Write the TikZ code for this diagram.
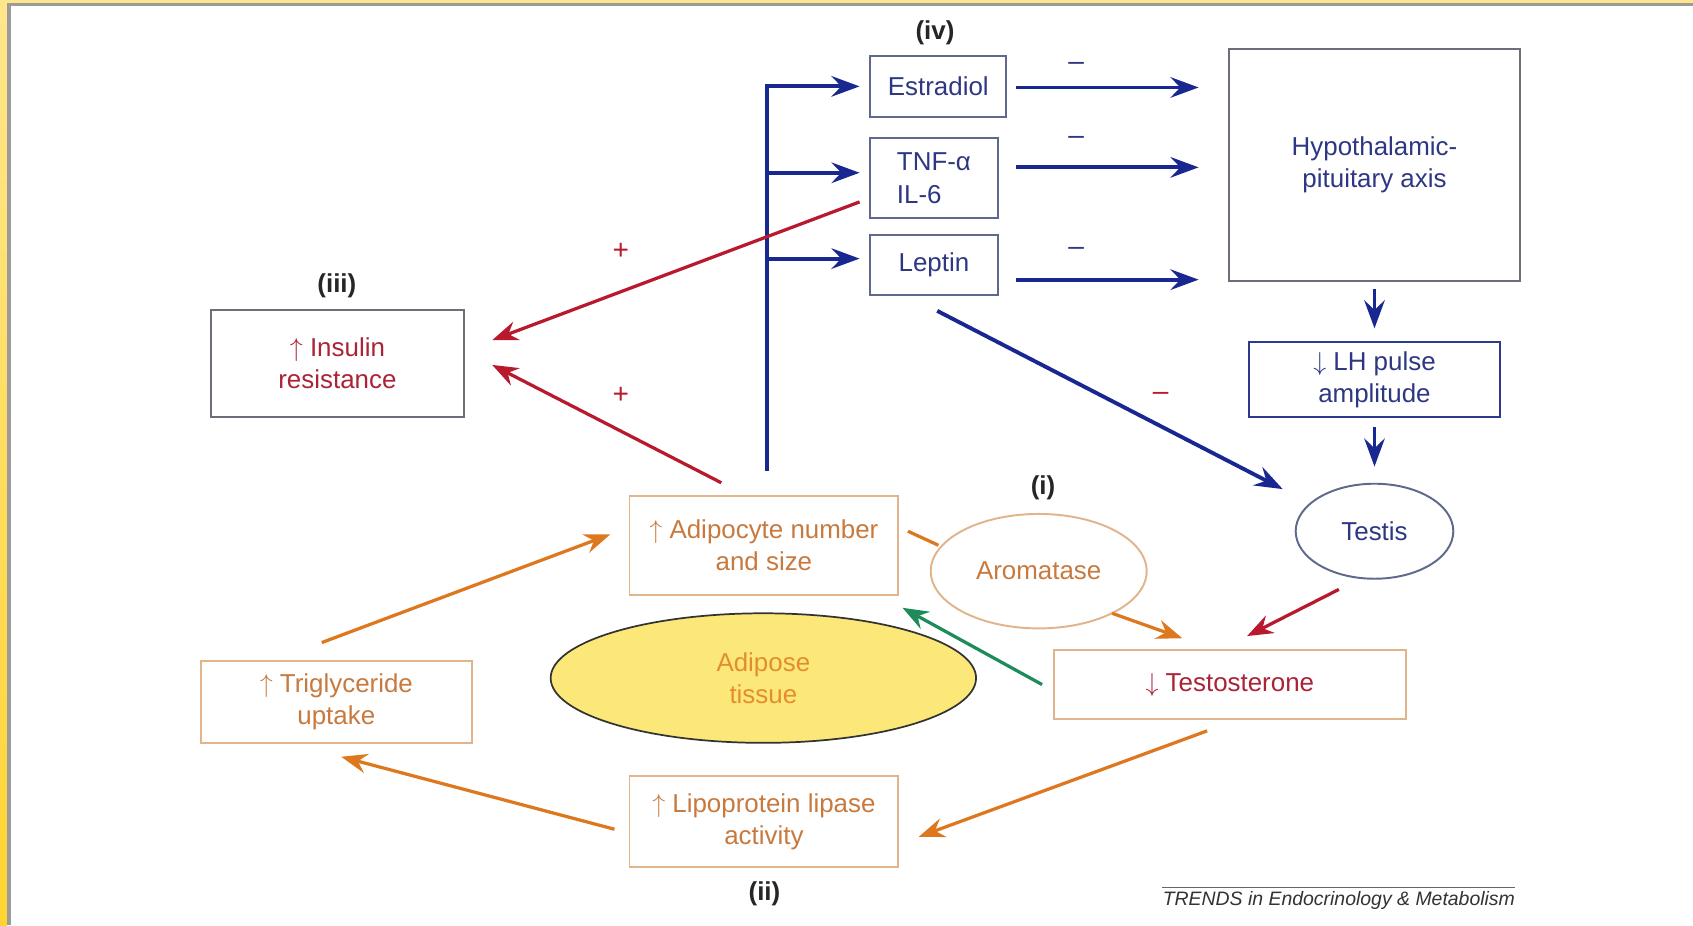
\documentclass[tikz,border=0pt]{standalone}
\usepackage{fontspec}
\setmainfont{Liberation Sans}
\usetikzlibrary{arrows.meta,calc,shapes.geometric}
\newcommand{\myup}{\ensuremath{\uparrow}}
\newcommand{\mydn}{\ensuremath{\downarrow}}
\definecolor{cblue}{RGB}{25,40,145}
\definecolor{tblue}{RGB}{45,55,130}
\definecolor{bgray}{RGB}{95,105,140}
\definecolor{ggray}{RGB}{110,110,120}
\definecolor{cred}{RGB}{185,25,45}
\definecolor{tred}{RGB}{170,35,55}
\definecolor{corange}{RGB}{222,120,30}
\definecolor{torange}{RGB}{200,122,62}
\definecolor{obord}{RGB}{225,180,140}
\definecolor{cgreen}{RGB}{30,140,90}
\definecolor{ayellow}{RGB}{251,232,120}
\definecolor{aorange}{RGB}{228,140,50}
\definecolor{fyellow}{RGB}{255,230,140}
\definecolor{fyellow2}{RGB}{255,212,50}
\definecolor{fgray}{RGB}{155,155,155}
\begin{document}
\begin{tikzpicture}[x=0.5pt,y=-0.5pt,
 txt/.style={font=\fontsize{12}{15}\selectfont,align=center,inner sep=0pt},
 bluebox/.style={txt,draw=bgray,line width=0.9pt,text=tblue,rectangle},
 graybox/.style={txt,draw=ggray,line width=0.9pt,rectangle},
 orbox/.style={txt,draw=obord,line width=0.9pt,rectangle,text=torange},
 lbl/.style={font=\bfseries\fontsize{12}{14}\selectfont,text=black!85},
 sign/.style={font=\fontsize{13}{14}\selectfont,inner sep=0pt},
 barrow/.style={draw=cblue,line width=1.8pt,-{Stealth[length=13pt,width=9.5pt,inset=4.5pt]}},
 rarrow/.style={draw=cred,line width=1.5pt,-{Stealth[length=12pt,width=9pt,inset=4pt]}},
 oarrow/.style={draw=corange,line width=1.5pt,-{Stealth[length=12pt,width=9pt,inset=4pt]}},
 garrow/.style={draw=cgreen,line width=1.5pt,-{Stealth[length=12pt,width=9pt,inset=4pt]}},
]
\useasboundingbox (0,0) rectangle (1568,857);
% frame
\fill[white] (0,0) rectangle (1568,857);
\fill[fyellow] (0,0) rectangle (1568,3);
\shade[top color=fyellow,bottom color=fyellow2] (0,0) rectangle (6.5,857);
\fill[fgray] (6.5,3) rectangle (1568,6);
\fill[fgray] (6.5,3) rectangle (10,857);

% nodes
\node[bluebox,minimum width=63pt,minimum height=28pt] (estr) at (869,80) {Estradiol};
\node[bluebox,minimum width=59pt,minimum height=37pt,align=left] (tnf) at (865,165) {TNF-α\\IL-6};
\node[bluebox,minimum width=59pt,minimum height=27.5pt] (lep) at (865,245.5) {Leptin};
\node[graybox,text=tblue,minimum width=135pt,minimum height=107.5pt] (hpa) at (1273,152.5) {Hypothalamic-\\pituitary axis};
\node[bluebox,draw=cblue!80!gray,minimum width=116pt,minimum height=34.5pt] (lh) at (1273,351.5) {\mydn\ LH pulse\\amplitude};
\node[txt,ellipse,draw=bgray,line width=0.9pt,text=tblue,minimum width=73pt,minimum height=44pt] (testis) at (1273,492) {Testis};
\node[orbox,text=tred,minimum width=163pt,minimum height=32pt] (testo) at (1139,634) {\mydn\ Testosterone};
\node[graybox,text=tred,minimum width=117.5pt,minimum height=49.5pt] (ins) at (312.5,336.5) {\myup\ Insulin\\resistance};
\node[orbox,minimum width=124.5pt,minimum height=46pt] (adip) at (707.5,505) {\myup\ Adipocyte number\\and size};
\node[txt,ellipse,draw=obord,line width=0.9pt,text=torange,minimum width=100pt,minimum height=53pt] (arom) at (962,529) {Aromatase};
\node[txt,ellipse,draw=black!80,fill=ayellow,line width=0.8pt,text=aorange,minimum width=197pt,minimum height=60pt] (adipose) at (707,628) {Adipose\\tissue};
\node[orbox,minimum width=125.5pt,minimum height=38pt] (tri) at (311.5,650) {\myup\ Triglyceride\\uptake};
\node[orbox,minimum width=124.5pt,minimum height=42pt] (lip) at (707.5,761) {\myup\ Lipoprotein lipase\\activity};

% labels
\node[lbl] (liv) at (866,30) {(iv)};
\node[lbl] (liii) at (312,265) {(iii)};
\node[lbl] (li) at (966,452) {(i)};
\node[lbl] (lii) at (708,828) {(ii)};

% blue trunk and branches
\coordinate (trunk) at ($(adip.north)+(2.5,-22)$);
\draw[barrow,line join=miter] (trunk) -- (trunk |- estr.west) -- ($(estr.west)+(-9,0)$);
\draw[barrow] ($(trunk |- tnf.west)+(0,-5)$) -- ($(tnf.west)+(-9,-5)$);
\draw[barrow] ($(trunk |- lep.west)+(0,-6)$) -- ($(lep.west)+(-9,-6)$);

% to HPA
\draw[barrow] ($(estr.east)+(8,1)$) -- node[pos=0.33,yshift=9.5pt,sign,text=tblue] (m1) {–} ($(estr.east -| hpa.west)+(-27,1)$);
\draw[barrow] ($(tnf.east)+(16,-10)$) -- node[pos=0.33,yshift=12.5pt,sign,text=tblue] (m2) {–} ($(hpa.west)+(-27,2.5)$);
\draw[barrow] ($(lep.east)+(16,13.5)$) -- node[pos=0.33,yshift=13pt,sign,text=tblue] (m3) {–} ($(lep.east -| hpa.west)+(-27,13.5)$);

\draw[barrow] ($(hpa.south)+(0,7)$) -- ($(lh.north)+(0,-12)$);
\draw[barrow] ($(lh.south)+(0,9)$) -- ($(testis.north)+(0,-15)$);
\draw[barrow] ($(lep.south)+(3,14)$) -- ($(testis.center)+(-85,-39)$);
\node[sign,text=cred] (m4) at (1075,367) {–};

% red
\draw[rarrow] ($(tnf.west)+(-9,22)$) -- ($(ins.east)+(25,-21.5)$);
\draw[rarrow] ($(adip.north)+(-39.5,-11)$) -- ($(ins.east)+(25,1.5)$);
\node[sign,text=cred] (p1) at (575,233) {+};
\node[sign,text=cred] (p2) at (575,366) {+};
\draw[rarrow] ($(testis.south)+(-33,9)$) -- ($(testo.north)+(16,-12)$);

% orange / green
\draw[draw=corange,line width=1.5pt] ($(adip.east)+(8,-13)$) -- ($(arom.west)+(8,-24)$);
\draw[oarrow] ($(arom.center)+(68,39)$) -- ($(testo.north)+(-44,-10)$);
\draw[garrow] ($(testo.west)+(-10,0)$) -- ($(adip.south east)+(3,11)$);
\draw[oarrow] ($(tri.north)+(-13.5,-16)$) -- ($(adip.west)+(-17,-10)$);
\draw[oarrow] ($(testo.south)+(-21,10)$) -- ($(lip.east)+(18,14)$);
\draw[oarrow] ($(lip.west)+(-13,7)$) -- ($(tri.south)+(4.5,12)$);

% footer
\node[font=\itshape\fontsize{9}{11}\selectfont,text=black!80,inner xsep=0pt,inner ysep=1.5pt] (foot) at (1240,834) {TRENDS in Endocrinology \& Metabolism};
\draw[black!60,line width=0.6pt] (foot.north west) -- (foot.north east);
\end{tikzpicture}
\end{document}
